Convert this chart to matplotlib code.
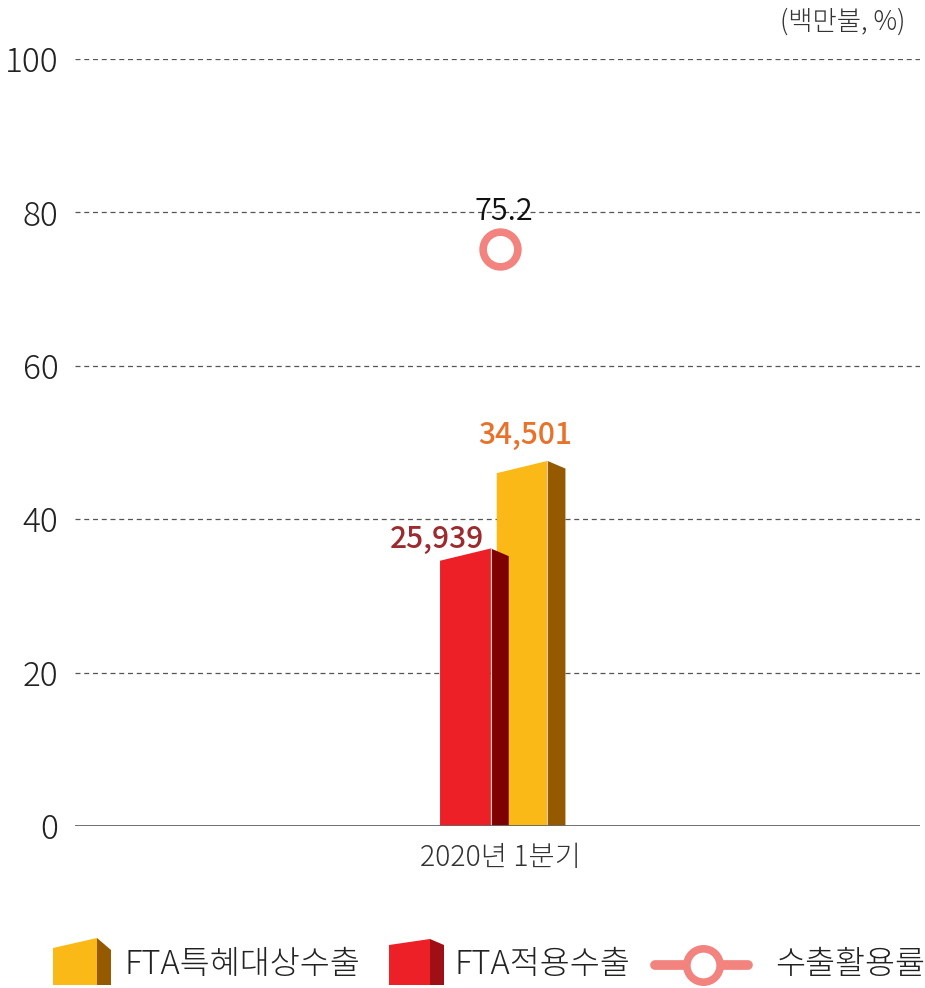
import matplotlib.pyplot as plt
from matplotlib.patches import Polygon
from matplotlib.lines import Line2D

plt.rcParams['font.family'] = ['Noto Sans CJK JP', 'DejaVu Sans']

# data
category = "2020년 1분기"
series_names = ["FTA특혜대상수출", "FTA적용수출", "수출활용률"]
pref_export = 34501      # 백만불
applied_export = 25939   # 백만불
util_rate = 75.2         # %
bar_max = 75000          # bar value shown at the top of the 0-100 scale
yticks = [0, 20, 40, 60, 80, 100]

YEL, YEL_SIDE = "#FBB917", "#955A00"
RED, RED_SIDE = "#ED1F27", "#7E0000"
PINK = "#F2837F"

fig = plt.figure(figsize=(9.25, 9.88), dpi=100)
ax = fig.add_axes([75 / 925, 1 - 826 / 988, 845 / 925, (826 - 59) / 988])
ax.set_xlim(-0.503, 0.497)
ax.set_ylim(0, 100)
for s in ax.spines.values():
    s.set_visible(False)
ax.set_xticks([])
ax.set_yticks(yticks)
ax.set_yticklabels([str(t) for t in yticks], fontsize=24, fontweight=300, color='#222222')
ax.tick_params(axis='y', length=0, pad=12)

for t in yticks[1:]:
    ax.axhline(t, color='#555555', lw=0.9, ls=(0, (4, 3)), zorder=1)
ax.axhline(0, color='#666666', lw=1.3, zorder=5)


def bar3d(x0, val, front, side, w=0.060, d=0.0213, rise=1.6, drop=1.0):
    h = val / bar_max * 100
    fp = Polygon([(x0, 0), (x0, h), (x0 + w, h + rise), (x0 + w, 0)],
                 closed=True, fc=front, ec='none', zorder=3)
    sp = Polygon([(x0 + w, 0), (x0 + w, h + rise), (x0 + w + d, h + rise - drop), (x0 + w + d, 0)],
                 closed=True, fc=side, ec='none', zorder=3)
    ax.add_patch(fp)
    ax.add_patch(sp)
    ax.plot([x0 + w, x0 + w], [0, h + rise], color='#F3C6B0', lw=0.8, zorder=3)
    return h


h_y = bar3d(-0.0039, pref_export, YEL, YEL_SIDE)
h_r = bar3d(-0.0710, applied_export, RED, RED_SIDE)

ax.text(0.030, h_y + 2.9, f"{pref_export:,}", ha='center', va='bottom',
        fontsize=21.5, fontweight=500, color='#E8722A')
ax.text(-0.075, h_r + 0.8, f"{applied_export:,}", ha='center', va='bottom',
        fontsize=21.5, fontweight=500, color='#9C2B2F')

ax.plot([0], [util_rate], marker='o', ms=25, mfc='white', mec=PINK, mew=5.5, zorder=6)
ax.text(0.004, util_rate + 2.9, f"{util_rate}", ha='center', va='bottom',
        fontsize=22, fontweight=350, color='#111111', zorder=7)

ax.text(0, -2.2, category, ha='center', va='top', fontsize=20.5, fontweight=300, color='#333333')
fig.text(905 / 925, 1 - 22 / 988, "(백만불, %)", ha='right', va='center',
         fontsize=19, fontweight=300, color='#333333')

# legend
lg = fig.add_axes([0, 0, 1, 80 / 988])
lg.set_xlim(0, 925)
lg.set_ylim(988, 908)
lg.axis('off')


def icon(x0, x1, x2, ytop_l, ytop_r, yside, front, side):
    lg.add_patch(Polygon([(x0, 985), (x0, ytop_l), (x1, ytop_r), (x1, 985)], fc=front, ec='none'))
    lg.add_patch(Polygon([(x1, 985), (x1, ytop_r), (x2, yside), (x2, 985)], fc=side, ec='none'))


icon(53, 97, 111, 948, 938, 950, YEL, YEL_SIDE)
icon(389, 430, 444, 945, 939, 945, RED, "#A00F16")
lg.add_line(Line2D([655, 748], [965, 965], color=PINK, lw=7, solid_capstyle='round'))
lg.plot([703], [965], marker='o', ms=24, mfc='white', mec=PINK, mew=5.5)
for xt, name in zip([125, 455, 775], series_names):
    lg.text(xt, 965, name, va='center', ha='left', fontsize=23.5, fontweight=300, color='#222222')

fig.savefig("out.png", dpi=100)
